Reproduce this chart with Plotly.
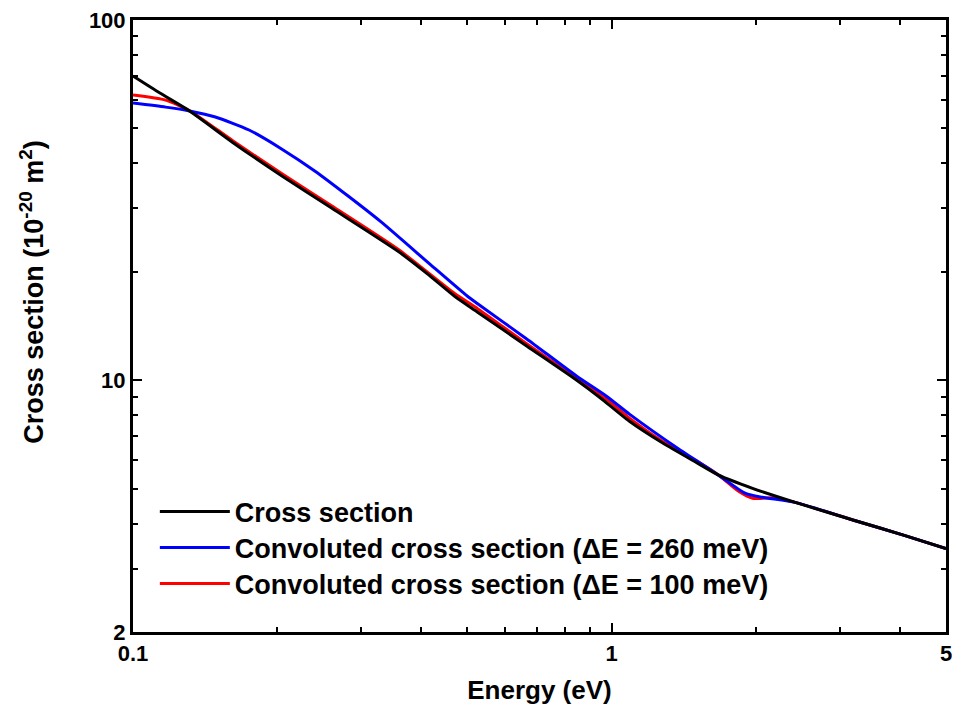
import plotly.graph_objects as go

# Black: cross section
E_cs = [0.1, 0.1138, 0.1313, 0.1613, 0.2048, 0.260, 0.358, 0.413, 0.470, 0.525, 0.666,
        0.846, 0.944, 1.09, 1.282, 1.501, 1.675, 1.971, 2.42, 3.22, 4.09, 5.0]
V_cs = [69.9, 62.7, 55.9, 45.8, 36.9, 30.05, 22.8, 19.7, 17.1, 15.45, 12.43,
        10.0, 8.97, 7.69, 6.68, 5.92, 5.45, 5.01, 4.58, 4.08, 3.71, 3.41]

# Blue: convoluted, dE = 260 meV
E_260 = [0.1, 0.117, 0.1313, 0.1486, 0.1748, 0.2048, 0.2398, 0.282, 0.330, 0.419,
         0.500, 0.525, 0.666, 0.846, 0.976, 1.09, 1.384, 1.651, 1.906, 2.066,
         2.42, 3.22, 4.09, 5.0]
V_260 = [58.8, 57.3, 55.9, 53.8, 49.5, 43.8, 38.1, 32.4, 27.5, 20.9,
         17.1, 16.3, 13.0, 10.26, 9.03, 8.05, 6.43, 5.52, 4.85, 4.73,
         4.58, 4.08, 3.71, 3.41]

# Red: convoluted, dE = 100 meV
E_100 = [0.1, 0.117, 0.1313, 0.1613, 0.2048, 0.260, 0.358, 0.470, 0.525, 0.666,
         0.846, 0.976, 1.09, 1.282, 1.501, 1.675, 1.85, 1.971, 2.066, 2.168, 2.42,
         3.22, 4.09, 5.0]
V_100 = [61.9, 59.9, 56.0, 46.3, 37.4, 30.5, 23.1, 17.4, 15.8, 12.6,
         10.1, 8.85, 7.85, 6.75, 5.98, 5.45, 4.90, 4.70, 4.70, 4.72, 4.58,
         4.08, 3.71, 3.41]

names = ["Cross section",
         "Convoluted cross section (\u0394E = 260 meV)",
         "Convoluted cross section (\u0394E = 100 meV)"]
y_title = "Cross section (10<sup>-20</sup> m<sup>2</sup>)"
x_title = "Energy (eV)"

x_major = [0.1, 1, 5]
x_major_text = ["0.1", "1", "5"]
x_minor = [0.2, 0.3, 0.4, 0.5, 0.6, 0.7, 0.8, 0.9, 2, 3, 4]
y_major = [2, 10, 100]
y_major_text = ["2", "10", "100"]
y_minor = [3, 4, 5, 6, 7, 8, 9, 20, 30, 40, 50, 60, 70, 80, 90]

FONT = "Liberation Sans"

fig = go.Figure()
fig.add_trace(go.Scatter(x=E_100, y=V_100, mode="lines", name=names[2],
                         line=dict(color="#ff0000", width=3, shape="spline", smoothing=0.6),
                         legend="legend3"))
fig.add_trace(go.Scatter(x=E_260, y=V_260, mode="lines", name=names[1],
                         line=dict(color="#0000ff", width=3, shape="spline", smoothing=0.6),
                         legend="legend2"))
fig.add_trace(go.Scatter(x=E_cs, y=V_cs, mode="lines", name=names[0],
                         line=dict(color="#000000", width=3, shape="spline", smoothing=0.6),
                         legend="legend"))

def leg(ypos):
    return dict(x=(155 - 133) / 819, y=ypos, xanchor="left", yanchor="middle",
                itemwidth=70,
                bgcolor="rgba(0,0,0,0)", borderwidth=0,
                font=dict(family=FONT, size=27, color="black", weight="bold"))

axis_common = dict(showline=True, linewidth=3, linecolor="black", mirror="ticks",
                   ticks="inside", ticklen=9, tickwidth=2, tickcolor="black",
                   showgrid=False, zeroline=False,
                   tickfont=dict(family=FONT, size=22, color="black", weight="bold"))

fig.update_layout(
    width=960, height=718,
    margin=dict(l=133, r=8, t=20, b=86),
    paper_bgcolor="white", plot_bgcolor="white",
    showlegend=True,
    legend=leg(1 - (512 - 20) / 612),
    legend2=leg(1 - (548 - 20) / 612),
    legend3=leg(1 - (584 - 20) / 612),
    xaxis=dict(type="log", range=[-1, 0.69897],
               tickvals=x_major, ticktext=x_major_text,
               minor=dict(tickvals=x_minor, ticks="inside", ticklen=5, tickwidth=2,
                          tickcolor="black", showgrid=False),
               title=dict(text=x_title, standoff=16,
                          font=dict(family=FONT, size=26, color="black", weight="bold")),
               **axis_common),
    yaxis=dict(type="log", range=[0.30103, 2],
               tickvals=y_major, ticktext=y_major_text,
               minor=dict(tickvals=y_minor, ticks="inside", ticklen=5, tickwidth=2,
                          tickcolor="black", showgrid=False),
               **axis_common),
    annotations=[dict(text=y_title, textangle=-90, showarrow=False,
                      xref="paper", yref="paper",
                      x=(31 - 133) / 819, y=(632 - 292) / 612,
                      xanchor="center", yanchor="middle",
                      font=dict(family=FONT, size=27, color="black", weight="bold"))],
)

fig.write_html("out.html")
